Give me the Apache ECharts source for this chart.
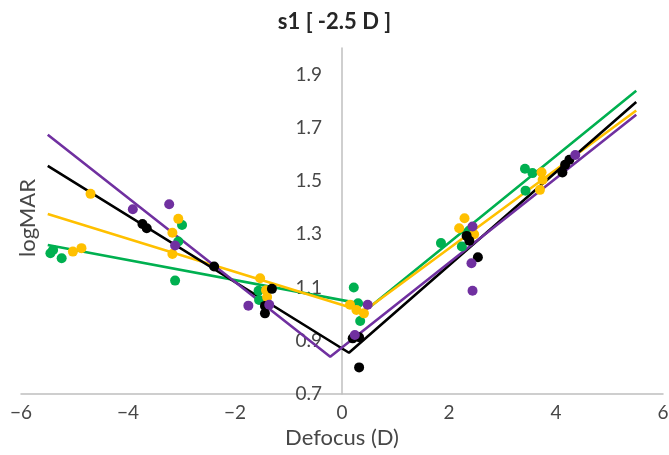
<!DOCTYPE html>
<html>
<head>
<meta charset="utf-8">
<script src="https://cdn.jsdelivr.net/npm/echarts@6/dist/echarts.min.js"></script>
<style>
  html, body { margin: 0; padding: 0; background: #fff; }
  #chart { width: 669px; height: 455px; }
</style>
</head>
<body>
<div id="chart"></div>
<script>
// Measured logMAR at each defocus, one array per run
const blackPts = [[-3.73,1.339],[-3.65,1.323],[-2.39,1.179],[-1.31,1.095],[-1.44,1.031],[-1.44,1.003],
  [0.20,0.909],[0.32,0.913],[0.32,0.80],[2.33,1.294],[2.38,1.276],[2.54,1.214],[4.17,1.561],[4.25,1.580],[4.12,1.532]];
const purplePts = [[-3.91,1.394],[-3.23,1.413],[-3.12,1.258],[-1.75,1.032],[-1.36,1.035],[0.24,0.922],
  [0.48,1.035],[2.44,1.329],[2.42,1.191],[2.44,1.088],[4.36,1.598]];
const yellowPts = [[-4.70,1.452],[-5.03,1.235],[-4.87,1.248],[-3.06,1.358],[-3.17,1.306],[-3.17,1.226],
  [-1.53,1.135],[-1.42,1.090],[-1.40,1.064],[0.15,1.035],[0.27,1.016],[0.41,1.003],[2.29,1.360],[2.19,1.323],
  [2.47,1.300],[3.73,1.533],[3.75,1.505],[3.70,1.467]];
const greenPts = [[-5.45,1.229],[-5.40,1.241],[-5.24,1.210],[-2.99,1.335],[-3.06,1.273],[-3.12,1.126],
  [-1.56,1.088],[-1.55,1.053],[0.22,1.100],[0.30,1.041],[0.34,0.974],[1.85,1.267],[2.24,1.254],[2.38,1.314],
  [3.42,1.546],[3.56,1.530],[3.43,1.464]];

// V-shaped fits: left end, vertex, right end
const blackFit  = [[-5.5,1.557],[0.13,0.855],[5.5,1.797]];
const purpleFit = [[-5.5,1.674],[-0.22,0.840],[5.5,1.749]];
const yellowFit = [[-5.5,1.376],[0.40,1.010],[5.5,1.765]];
const greenFit  = [[-5.5,1.260],[0.55,1.032],[5.5,1.839]];

const xTicks = [-6, -4, -2, 0, 2, 4, 6];
const yTickLabels = ['0.7', '0.9', '1.1', '1.3', '1.5', '1.7', '1.9'];

const COLORS = { purple: '#7030A0', black: '#000000', yellow: '#FFC000', green: '#00B050' };
const FONT = 'Lato, "Open Sans", sans-serif';
const LABEL = '#474747';

const GRID = { left: 21, right: 6, top: 48, bottom: 61 };
const plotWidth = 669 - GRID.left - GRID.right;
// shift the vertical axis inward so it crosses the horizontal axis at x = 0
const yAxisShift = -plotWidth * (0 - xTicks[0]) / (xTicks[xTicks.length - 1] - xTicks[0]);

function fitSeries(data, color) {
  return { type: 'line', data: data, symbol: 'none', silent: true, z: 2,
    lineStyle: { color: color, width: 2.6 } };
}
function dotSeries(data, color) {
  return { type: 'scatter', data: data, symbol: 'circle', symbolSize: 10, z: 3,
    itemStyle: { color: color, opacity: 1 } };
}

const chart = echarts.init(document.getElementById('chart'), null, { renderer: 'canvas' });
chart.setOption({
  animation: false,
  backgroundColor: '#ffffff',
  title: {
    text: 's1 [ -2.5 D ]', left: 'center', top: 6,
    textStyle: { fontFamily: FONT, fontSize: 22, fontWeight: 'bold', color: '#262626' }
  },
  grid: Object.assign({ outerBoundsMode: 'none', containLabel: false }, GRID),
  xAxis: {
    type: 'value', min: xTicks[0], max: xTicks[xTicks.length - 1], interval: 2,
    axisLine: { onZero: false, lineStyle: { color: '#bfbfbf', width: 1.5 } },
    axisTick: { show: false }, splitLine: { show: false },
    axisLabel: { margin: 9, color: LABEL, fontFamily: FONT, fontSize: 19,
      formatter: v => (v < 0 ? '\u2212' + Math.abs(v) : String(v)) },
    name: 'Defocus (D)', nameLocation: 'middle', nameGap: 31,
    nameTextStyle: { color: LABEL, fontFamily: FONT, fontSize: 22 }
  },
  yAxis: {
    type: 'value', min: 0.7, max: 2.0, interval: 0.1,
    position: 'left', offset: yAxisShift,
    axisLine: { onZero: false, lineStyle: { color: '#bfbfbf', width: 1.5 } },
    axisTick: { show: false }, splitLine: { show: false },
    axisLabel: { margin: 20, color: LABEL, fontFamily: FONT, fontSize: 19,
      formatter: v => {
        const s = v.toFixed(1);
        return yTickLabels.indexOf(s) >= 0 ? s : '';
      } }
  },
  graphic: [{
    type: 'text', x: 28, y: 218, rotation: Math.PI / 2,
    style: { text: 'logMAR', fill: LABEL, font: '22px ' + FONT, align: 'center', verticalAlign: 'middle' }
  }],
  series: [
    fitSeries(greenFit, COLORS.green),
    fitSeries(yellowFit, COLORS.yellow),
    fitSeries(blackFit, COLORS.black),
    fitSeries(purpleFit, COLORS.purple),
    dotSeries(greenPts, COLORS.green),
    dotSeries(yellowPts, COLORS.yellow),
    dotSeries(blackPts, COLORS.black),
    dotSeries(purplePts, COLORS.purple)
  ]
});
</script>
</body>
</html>
